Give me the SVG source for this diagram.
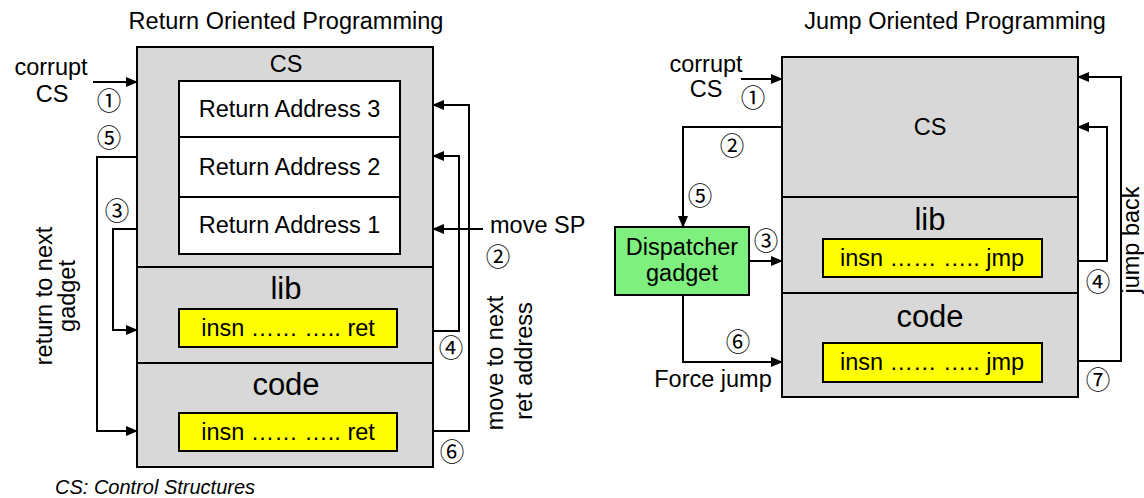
<svg xmlns="http://www.w3.org/2000/svg" width="1144" height="498" viewBox="0 0 1144 498">
  <style>
    text { font-family: "Liberation Sans", Arial, sans-serif; font-size: 23.5px; fill: #000; }
    .mid { text-anchor: middle; }
    .big { font-size: 31px; }
    .num { font-family: "Noto Sans CJK JP", "DejaVu Sans", sans-serif; font-size: 24.5px; text-anchor: middle; }
    .note { font-size: 20px; font-style: italic; }
    .panel { fill: #d8d8d8; stroke: #000; stroke-width: 2; }
    .slot { fill: #fff; stroke: #000; stroke-width: 2; }
    .insn { fill: #ffff00; stroke: #000; stroke-width: 2; }
    .disp { fill: #7ff07f; stroke: #000; stroke-width: 2; }
    .div { stroke: #000; stroke-width: 2; fill: none; }
    .wire { stroke: #000; stroke-width: 2; fill: none; }
    .arr { marker-end: url(#head); }
  </style>
  <defs>
    <marker id="head" markerUnits="userSpaceOnUse" markerWidth="12" markerHeight="10" refX="11" refY="5" orient="auto">
      <path d="M0,0 L12,5 L0,10 Z" fill="#000"/>
    </marker>
  </defs>
  <rect width="1144" height="498" fill="#fff"/>

  <!-- Titles -->
  <text class="mid" x="286" y="29">Return Oriented Programming</text>
  <text class="mid" x="955" y="29">Jump Oriented Programming</text>

  <!-- ROP memory layout -->
  <g id="rop-memory">
    <rect class="panel" x="137" y="47" width="296" height="420"/>
    <line class="div" x1="137" y1="267" x2="433" y2="267"/>
    <line class="div" x1="137" y1="363" x2="433" y2="363"/>
    <text class="mid" x="286" y="72">CS</text>
    <text class="mid big" x="286" y="299">lib</text>
    <text class="mid big" x="286" y="395">code</text>
  </g>
  <g id="rop-ret3">
    <rect class="slot" x="179" y="81" width="221" height="56"/>
    <text class="mid" x="289.5" y="117">Return Address 3</text>
  </g>
  <g id="rop-ret2">
    <rect class="slot" x="179" y="137" width="221" height="60"/>
    <text class="mid" x="289.5" y="175">Return Address 2</text>
  </g>
  <g id="rop-ret1">
    <rect class="slot" x="179" y="197" width="221" height="57"/>
    <text class="mid" x="289.5" y="233">Return Address 1</text>
  </g>
  <g id="rop-lib-gadget">
    <rect class="insn" x="179" y="309" width="218" height="38"/>
    <text class="mid" x="288" y="336">insn …… ….. ret</text>
  </g>
  <g id="rop-code-gadget">
    <rect class="insn" x="179" y="413" width="218" height="38"/>
    <text class="mid" x="288" y="440">insn …… ….. ret</text>
  </g>

  <!-- JOP memory layout -->
  <g id="jop-memory">
    <rect class="panel" x="782" y="57" width="296" height="340"/>
    <line class="div" x1="782" y1="197" x2="1078" y2="197"/>
    <line class="div" x1="782" y1="293" x2="1078" y2="293"/>
    <text class="mid" x="930" y="135">CS</text>
    <text class="mid big" x="930" y="230">lib</text>
    <text class="mid big" x="930" y="327">code</text>
  </g>
  <g id="jop-lib-gadget">
    <rect class="insn" x="823" y="239" width="219" height="38"/>
    <text class="mid" x="932" y="266">insn …… ….. jmp</text>
  </g>
  <g id="jop-code-gadget">
    <rect class="insn" x="823" y="343" width="219" height="39"/>
    <text class="mid" x="932" y="370">insn …… ….. jmp</text>
  </g>
  <g id="dispatcher">
    <rect class="disp" x="615" y="227" width="134" height="68"/>
    <text class="mid" x="682" y="255">Dispatcher</text>
    <text class="mid" x="682" y="281">gadget</text>
  </g>

  <!-- Connectors -->
  <g id="connectors">
    <!-- ROP -->
    <path class="wire arr" d="M93,82 H137"/>
    <path class="wire arr" d="M137,157 H97 V431 H137"/>
    <path class="wire arr" d="M137,229 H113 V330 H137"/>
    <path class="wire arr" d="M433,431 H469 V105 H433"/>
    <path class="wire arr" d="M433,331 H459 V156 H433"/>
    <path class="wire arr" d="M483,229 H433"/>
    <!-- JOP -->
    <path class="wire arr" d="M741,79 H782"/>
    <path class="wire arr" d="M782,127 H683 V227"/>
    <path class="wire arr" d="M749,261 H782"/>
    <path class="wire arr" d="M683,295 V362 H782"/>
    <path class="wire arr" d="M1078,361 H1121 V77 H1078"/>
    <path class="wire arr" d="M1078,261 H1107 V127 H1078"/>
  </g>

  <!-- ROP labels -->
  <g id="rop-labels">
    <text class="mid" x="51" y="75">corrupt</text>
    <text class="mid" x="52" y="102">CS</text>
    <text class="num" x="109" y="110">①</text>
    <text class="num" x="109" y="147">⑤</text>
    <text class="num" x="117" y="220">③</text>
    <text class="num" x="498" y="266">②</text>
    <text class="num" x="451" y="357">④</text>
    <text class="num" x="452" y="461">⑥</text>
    <text x="490" y="233">move SP</text>
    <text class="mid" transform="translate(52,296) rotate(-90)">return to next</text>
    <text class="mid" transform="translate(75,296) rotate(-90)">gadget</text>
    <text class="mid" transform="translate(503,363) rotate(-90)">move to next</text>
    <text class="mid" transform="translate(532,361) rotate(-90)">ret address</text>
    <text class="note" x="55" y="494">CS: Control Structures</text>
  </g>

  <!-- JOP labels -->
  <g id="jop-labels">
    <text class="mid" x="706" y="72">corrupt</text>
    <text class="mid" x="706" y="97">CS</text>
    <text class="num" x="753" y="107">①</text>
    <text class="num" x="732" y="155">②</text>
    <text class="num" x="700" y="205">⑤</text>
    <text class="num" x="766" y="250">③</text>
    <text class="num" x="738" y="351">⑥</text>
    <text class="num" x="1098" y="291">④</text>
    <text class="num" x="1098" y="389">⑦</text>
    <text class="mid" x="713" y="387">Force jump</text>
    <text class="mid" transform="translate(1139,240) rotate(-90)">jump back</text>
  </g>
</svg>
